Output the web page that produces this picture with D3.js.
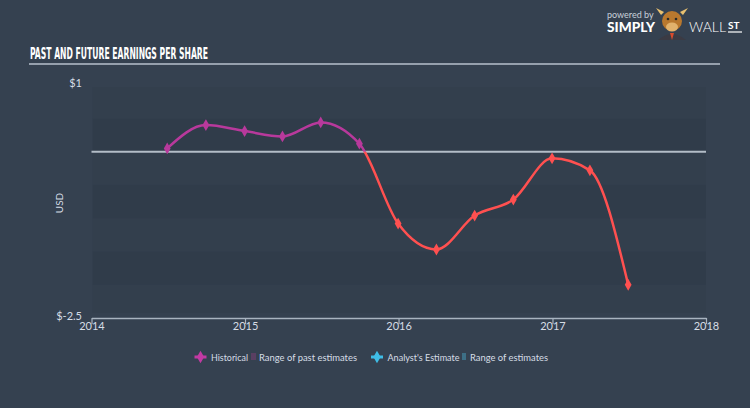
<!DOCTYPE html>
<html><head><meta charset="utf-8">
<script src="https://cdn.jsdelivr.net/npm/d3@7"></script>
<style>
html,body{margin:0;padding:0;background:#354150;}
svg{display:block;}
</style></head>
<body>
<svg id="chart" width="750" height="408"></svg>
<script>
// ---- data ----
const dates = ["2014-06-30","2014-09-30","2014-12-31","2015-03-31","2015-06-30","2015-09-30",
               "2015-12-31","2016-03-31","2016-06-30","2016-09-30","2016-12-31","2017-03-31","2017-06-30"];
const eps = [0.05, 0.40, 0.31, 0.23, 0.44, 0.12, -1.08, -1.47, -0.96, -0.72, -0.10, -0.28, -2.00];
const yTickValues = [1, -2.5];
const yTickLabels = ["$1", "$-2.5"];
const xTickYears = [2014, 2015, 2016, 2017, 2018];
const legendItems = ["Historical", "Range of past estimates", "Analyst's Estimate", "Range of estimates"];

const parse = d3.timeParse("%Y-%m-%d");
const data = dates.map((d, i) => ({date: parse(d), v: eps[i]}));

const svg = d3.select("#chart");
const W = 750, H = 408;
const C = {bg:"#354150", bandA:"#303c4a", bandB:"#333f4d", pos:"#b8399c", neg:"#ff5050",
           cyan:"#3fbde6", text:"#d6dde6", axis:"#a9b4c0"};

svg.append("rect").attr("width", W).attr("height", H).attr("fill", C.bg);

const x = d3.scaleTime().domain([new Date(2014,0,1), new Date(2018,0,1)]).range([91.5, 706]);
const y = d3.scaleLinear().domain([-2.5, 1]).range([318, 85.2]);

// ---- title ----
svg.append("text").attr("x", 30).attr("y", 59)
  .attr("font-family", "'Liberation Sans Narrow','DejaVu Sans Condensed','Roboto Condensed',sans-serif")
  .attr("font-weight", "bold").attr("font-size", 15).attr("fill", "#ffffff")
  .attr("textLength", 178).attr("lengthAdjust", "spacingAndGlyphs")
  .text("PAST AND FUTURE EARNINGS PER SHARE");
svg.append("line").attr("x1", 29).attr("x2", 720).attr("y1", 64).attr("y2", 64)
  .attr("stroke", "#b7c1cc").attr("stroke-width", 1.5);

// ---- logo ----
const logo = svg.append("g");
logo.append("text").attr("x", 607).attr("y", 18).attr("font-family", "Lato, sans-serif")
  .attr("font-size", 9).attr("fill", "#c8d0da").text("powered by");
logo.append("text").attr("x", 607).attr("y", 32).attr("font-family", "Lato, sans-serif")
  .attr("font-weight", "900").attr("font-size", 13).attr("fill", "#ffffff")
  .attr("textLength", 48).attr("lengthAdjust", "spacingAndGlyphs").text("SIMPLY");
// bull emblem
logo.append("path").attr("d", "M661,15 L656,8 L664,12 Z M683,15 L688,8 L680,12 Z").attr("fill", "#e8c070");
logo.append("path").attr("d", "M658,40 Q672,28 686,40 Z").attr("fill", "#3b3b44");
logo.append("ellipse").attr("cx", 672).attr("cy", 21).attr("rx", 10).attr("ry", 10).attr("fill", "#b9782e");
logo.append("ellipse").attr("cx", 672).attr("cy", 27).attr("rx", 6).attr("ry", 4.5).attr("fill", "#e2b26c");
logo.append("path").attr("d", "M670,33 L672,40 L674,33 Z").attr("fill", "#d94b2c");
logo.append("circle").attr("cx", 668).attr("cy", 19).attr("r", 1.3).attr("fill", "#2a2a2a");
logo.append("circle").attr("cx", 676).attr("cy", 19).attr("r", 1.3).attr("fill", "#2a2a2a");
logo.append("text").attr("x", 689).attr("y", 32).attr("font-family", "Lato, sans-serif")
  .attr("font-weight", "300").attr("font-size", 13).attr("fill", "#ffffff")
  .attr("textLength", 37).attr("lengthAdjust", "spacingAndGlyphs").text("WALL");
logo.append("text").attr("x", 728).attr("y", 29).attr("font-family", "Lato, sans-serif")
  .attr("font-weight", "bold").attr("font-size", 10).attr("fill", "#ffffff").text("ST");
logo.append("line").attr("x1", 728).attr("x2", 742).attr("y1", 32).attr("y2", 32)
  .attr("stroke", "#ffffff").attr("stroke-width", 1.2);

// ---- plot bands ----
const bandEdges = d3.range(-2.5, 1.0001, 0.5);
const bandG = svg.append("g");
const x0 = x(new Date(2014,0,1)) + 1, x1 = x(new Date(2018,0,1));
for (let i = 0; i < bandEdges.length - 1; i++) {
  const lo = bandEdges[i], hi = bandEdges[i+1];
  const top = Math.max(y(hi), 87), bot = Math.min(y(lo), 313);
  bandG.append("rect").attr("x", x0).attr("width", x1 - x0)
    .attr("y", top).attr("height", bot - top)
    .attr("fill", i % 2 === 0 ? C.bandB : C.bandA);
}

// ---- zero line ----
svg.append("line").attr("x1", x(new Date(2014,0,1))).attr("x2", x(new Date(2018,0,1)))
  .attr("y1", y(0)).attr("y2", y(0)).attr("stroke", "#b3bdc7").attr("stroke-width", 2);

// ---- y labels ----
svg.selectAll(".ylab").data(yTickValues).enter().append("text")
  .attr("x", 82).attr("y", (d) => y(d) + 2)
  .attr("text-anchor", "end").attr("font-family", "Lato, sans-serif").attr("font-size", 11)
  .attr("fill", C.text).text((d, i) => yTickLabels[i]);
svg.append("text").attr("transform", "translate(63,203) rotate(-90)")
  .attr("text-anchor", "middle").attr("font-family", "Lato, sans-serif").attr("font-size", 10)
  .attr("fill", C.text).text("USD");

// ---- x axis ----
const xAxis = d3.axisBottom(x)
  .tickValues(xTickYears.map(yr => new Date(yr,0,1)))
  .tickFormat(d3.timeFormat("%Y")).tickSize(6).tickSizeOuter(0);
const gx = svg.append("g").attr("transform", "translate(0,318)").call(xAxis);
gx.select(".domain").attr("stroke", C.axis).attr("stroke-width", 1.5);
gx.selectAll(".tick line").attr("stroke", C.axis).attr("stroke-width", 1.2);
gx.selectAll(".tick text").attr("fill", C.text).attr("font-family", "Lato, sans-serif")
  .attr("font-size", 11).attr("dy", "0.55em").attr("y", 6);

// ---- line ----
const defs = svg.append("defs");
defs.append("clipPath").attr("id", "clipPos").append("rect")
  .attr("x", 0).attr("y", 0).attr("width", W).attr("height", y(0));
defs.append("clipPath").attr("id", "clipNeg").append("rect")
  .attr("x", 0).attr("y", y(0)).attr("width", W).attr("height", H - y(0));

const line = d3.line().x(d => x(d.date)).y(d => y(d.v)).curve(d3.curveMonotoneX);
svg.append("path").datum(data).attr("d", line).attr("fill", "none")
  .attr("stroke", C.pos).attr("stroke-width", 2.5).attr("clip-path", "url(#clipPos)");
svg.append("path").datum(data).attr("d", line).attr("fill", "none")
  .attr("stroke", C.neg).attr("stroke-width", 2.5).attr("clip-path", "url(#clipNeg)");

svg.selectAll(".pt").data(data).enter().append("path")
  .attr("transform", d => `translate(${x(d.date)},${y(d.v)})`)
  .attr("d", d3.symbol().type(d3.symbolDiamond).size(40))
  .attr("fill", d => d.v >= 0 ? C.pos : C.neg);

// ---- legend ----
const lg = svg.append("g").attr("font-family", "Lato, sans-serif").attr("font-size", 10).attr("fill", C.text);
function lineIcon(cx, color) {
  lg.append("line").attr("x1", cx - 6).attr("x2", cx + 6).attr("y1", 357).attr("y2", 357)
    .attr("stroke", color).attr("stroke-width", 3);
  lg.append("path").attr("transform", `translate(${cx},357)`)
    .attr("d", d3.symbol().type(d3.symbolDiamond).size(45)).attr("fill", color);
}
lineIcon(200.5, "#c23aa3");
lg.append("text").attr("x", 211).attr("y", 360.5).attr("textLength", 37).attr("lengthAdjust", "spacingAndGlyphs").text(legendItems[0]);
lg.append("rect").attr("x", 251).attr("y", 353).attr("width", 5).attr("height", 7).attr("fill", "#5a3f62");
lg.append("text").attr("x", 259).attr("y", 360.5).attr("textLength", 98).attr("lengthAdjust", "spacingAndGlyphs").text(legendItems[1]);
lineIcon(377, C.cyan);
lg.append("text").attr("x", 387.5).attr("y", 360.5).attr("textLength", 72).attr("lengthAdjust", "spacingAndGlyphs").text(legendItems[2]);
lg.append("rect").attr("x", 462).attr("y", 353).attr("width", 4).attr("height", 7).attr("fill", "#3d6f86");
lg.append("text").attr("x", 470).attr("y", 360.5).attr("textLength", 78).attr("lengthAdjust", "spacingAndGlyphs").text(legendItems[3]);
</script>
</body></html>
